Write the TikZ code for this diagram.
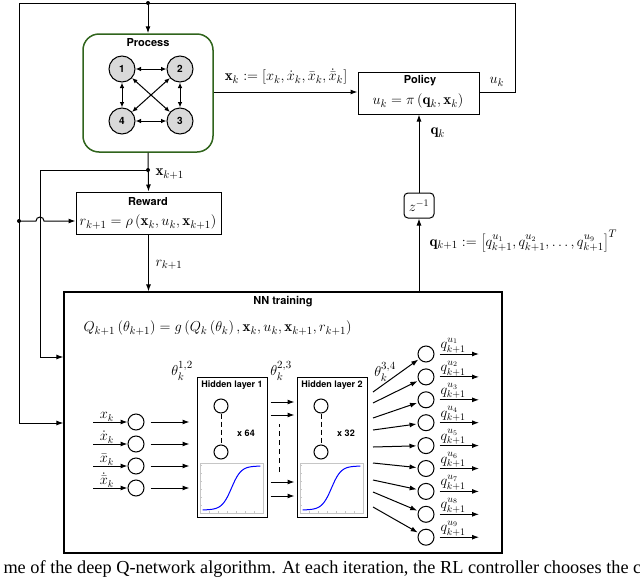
\documentclass[tikz,border=0pt]{standalone}
\usepackage{fontspec}
\setsansfont{TeX Gyre Heros}
\newfontfamily\capfont{Liberation Serif}
\usetikzlibrary{arrows.meta,calc}
\definecolor{procgreen}{RGB}{48,100,28}
\begin{document}
\begin{tikzpicture}[x=1pt,y=-1pt,
  >={Latex[length=7pt,width=5pt]}, line width=1pt,
  blk/.style={draw, rectangle, inner sep=0pt},
  ttl/.style={inner sep=0pt, font=\sffamily\bfseries\fontsize{11}{13}\selectfont},
  sttl/.style={inner sep=0pt, font=\sffamily\bfseries\fontsize{9}{11}\selectfont},
  mth/.style={inner sep=0pt, font=\fontsize{15}{17}\selectfont},
  smth/.style={inner sep=1pt, font=\fontsize{14}{16}\selectfont},
  pnode/.style={circle, draw, fill=gray!30, minimum size=26pt, inner sep=0pt, font=\sffamily\bfseries\fontsize{10}{12}\selectfont},
  neur/.style={circle, draw, minimum size=16pt, inner sep=0pt},
  hneur/.style={circle, draw, minimum size=14pt, inner sep=0pt},
  jdot/.style={circle, fill, minimum size=4pt, inner sep=0pt},
  bi/.style={<->, >={Latex[length=5.5pt,width=4.5pt]}, line width=1pt}
]
\useasboundingbox (0,0) rectangle (640,576);
\clip (0,0) rectangle (640,576);

% ---------------- Process ----------------
\node[draw=procgreen, line width=1.5pt, rounded corners=16pt, minimum width=130pt, minimum height=118pt] (process) at (148,93) {};
\node[ttl] (ptitle) at (148,43) {Process};
\node[pnode] (n1) at (122,69) {1};
\node[pnode] (n2) at (180,69) {2};
\node[pnode] (n3) at (180,121) {3};
\node[pnode] (n4) at (122,121) {4};
\draw[bi] (n1) -- (n2);
\draw[bi] (n1) -- (n4);
\draw[bi] (n2) -- (n3);
\draw[bi] (n4) -- (n3);
\draw[bi] (n1) -- (n3);
\draw[bi] (n2) -- (n4);

% ---------------- Policy ----------------
\node[blk, minimum width=121pt, minimum height=42pt] (policy) at (418.5,93) {};
\node[ttl] (poltitle) at (420,81) {Policy};
\node[mth] (polf) at (418,101) {$u_k=\pi\left(\mathbf{q}_k,\mathbf{x}_k\right)$};

% ---------------- Reward ----------------
\node[blk, minimum width=145pt, minimum height=42pt] (reward) at (148.5,213) {};
\node[ttl] (rtitle) at (148,202) {Reward};
\node[mth] (rf) at (148,222) {$r_{k+1}=\rho\left(\mathbf{x}_k,u_k,\mathbf{x}_{k+1}\right)$};

% ---------------- z^-1 ----------------
\node[blk, rounded corners=4pt, minimum width=30pt, minimum height=25pt, font=\fontsize{14}{16}\selectfont] (zinv) at (419,205.5) {$z^{-1}$};

% ---------------- NN training ----------------
\node[blk, line width=1.2pt, minimum width=438pt, minimum height=261pt] (nn) at (283,422.5) {};
\node[ttl] (nntitle) at (283,302) {NN training};
\node[mth, anchor=west] (qf) at (83,328) {$Q_{k+1}\left(\theta_{k+1}\right)=g\left(Q_k\left(\theta_k\right),\mathbf{x}_k,u_k,\mathbf{x}_{k+1},r_{k+1}\right)$};

% junction coordinates
\coordinate (dtop) at (148,3);
\coordinate (tr) at (515,3);
\coordinate (rr) at (515,92);
\coordinate (tl) at (19,3);
\coordinate (dleft) at (19,221);
\coordinate (bl) at (19,423);
\coordinate (dx1) at (148,170);
\coordinate (x1l) at (40,170);
\coordinate (x1b) at (40,357);

% u_k feedback loop
\draw (policy.east |- rr) -- (rr) -- (tr) -- (tl) -- (bl);
\draw[->] (bl) -- (nn.west |- bl);
\draw[->] (dtop) -- (process.north);
\node[jdot] (jd1) at (dtop) {};
\node[mth, anchor=south] (uklab) at (497,87) {$u_k$};

% x_k to policy
\draw[->] (process.east |- rr) -- (policy.west |- rr);
\node[mth, anchor=south] (xklab) at (286,85) {$\mathbf{x}_k:=\left[x_k,\dot{x}_k,\bar{x}_k,\dot{\bar{x}}_k\right]$};

% x_{k+1}
\draw[->] (process.south) -- (reward.north);
\node[jdot] (jd2) at (dx1) {};
\node[mth, anchor=west] (xk1lab) at (155,174) {$\mathbf{x}_{k+1}$};
\draw (dx1) -- (x1l) -- (x1b);
\draw[->] (x1b) -- (nn.west |- x1b);

% left branch into reward with hop
\node[jdot] (jd3) at (dleft) {};
\draw[->] (dleft) -- (36,221) arc (180:360:4) -- (reward.west |- dleft);

% r_{k+1}
\draw[->] (reward.south) -- (nn.north -| reward.south);
\node[mth, anchor=west] (rklab) at (155,265) {$r_{k+1}$};

% q loop
\draw[->] (nn.north -| zinv) -- (zinv.south);
\draw[->] (zinv.north) -- (policy.south -| zinv);
\node[mth, anchor=west] (qklab) at (430,133) {$\mathbf{q}_k$};
\node[mth, anchor=west] (qk1lab) at (429,241) {$\mathbf{q}_{k+1}:=\left[q_{k+1}^{u_1},q_{k+1}^{u_2},\ldots,q_{k+1}^{u_9}\right]^T$};

% ---------------- Network ----------------
\node[blk, minimum width=70pt, minimum height=140pt] (hl1) at (232,447) {};
\node[blk, minimum width=70pt, minimum height=140pt] (hl2) at (332,447) {};
\foreach \L/\cx/\num/\cnt in {hl1/232/1/64, hl2/332/2/32}{
  \node[sttl] at (\cx,385) {Hidden layer \num};
  \node[hneur] (\L a) at (\cx-11,406) {};
  \node[hneur] (\L b) at (\cx-11,452) {};
  \draw[dashed, dash pattern=on 5pt off 3pt] (\L a) -- (\L b);
  \node[sttl] at (\cx+14,433) {x \cnt};
  \draw[gray!45, line width=0.6pt, fill=white] (\cx-32,463) rectangle (\cx+31,513);
  \foreach \t in {0,...,6}{
    \draw[gray!45, line width=0.4pt] (\cx-32+\t*9,513) -- (\cx-32+\t*9,511);
    \draw[gray!45, line width=0.4pt] (\cx-32,513-\t*8) -- (\cx-30,513-\t*8);
  }
  \draw[blue, line width=1pt] plot[domain=-6:6, samples=60] ({\cx-0.5+\x*4.8},{510-44/(1+exp(-\x))});
}

\node[mth] (th12) at (182,371) {$\theta_k^{1,2}$};
\node[mth] (th23) at (281,371) {$\theta_k^{2,3}$};
\node[mth] (th34) at (385,372) {$\theta_k^{3,4}$};

% inputs
\foreach \i/\y/\lab in {1/422/x_k, 2/444/\dot{x}_k, 3/466/\bar{x}_k, 4/488/\dot{\bar{x}}_k}{
  \node[neur] (in\i) at (136,\y) {};
  \coordinate (ins\i) at (93,\y);
  \draw[->] (ins\i) -- (in\i) node[pos=0.4, anchor=south, smth, inner sep=0.5pt] {$\lab$};
  \draw[->, shorten <=6pt, shorten >=7pt] (in\i) -- (in\i -| hl1.west);
}

% between hidden layers
\foreach \y in {402,415,482,496}{
  \draw[->] (hl1.east |- 0,\y) ++(3,0) -- ($(hl2.west |- 0,\y)+(-2,0)$);
}
\draw[dashed, dash pattern=on 5pt off 4pt] (279,472) -- (279,424);

% outputs
\foreach \i/\ys in {1/392,2/403,3/418,4/430,5/447,6/463,7/480,8/492,9/507}{
  \pgfmathsetmacro{\yo}{354+22.9*(\i-1)}
  \node[neur] (out\i) at (426,\yo) {};
  \coordinate (os\i) at (373,\ys);
  \draw[->, shorten >=1pt] (os\i) -- (out\i);
  \coordinate (oe\i) at (479,\yo);
  \draw[->, shorten <=5pt] (out\i) -- (oe\i) node[pos=0.42, anchor=south, smth, inner sep=0.5pt] {$q_{k+1}^{u_{\i}}$};
}

% caption (cropped)
\node[anchor=base west, inner sep=0pt, font=\capfont\fontsize{18.3}{20}\selectfont] (cap) at (3,573) {me of the deep Q-network algorithm. At each iteration, the RL controller chooses the c};
\end{tikzpicture}
\end{document}
